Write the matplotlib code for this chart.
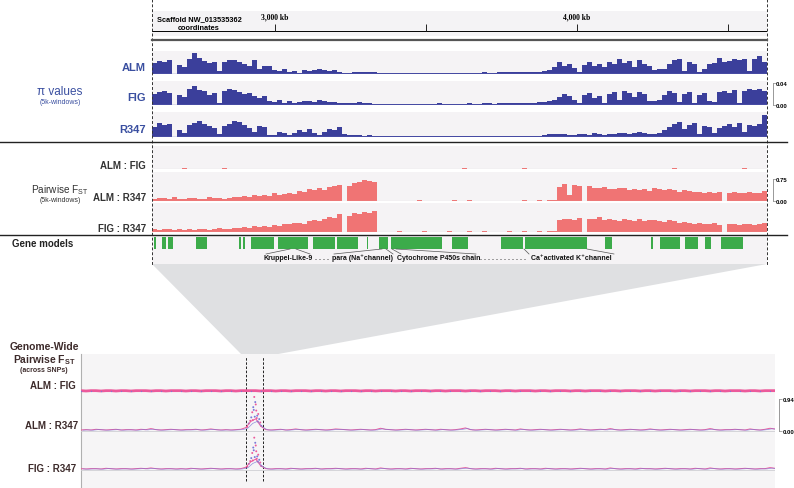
import numpy as np
import matplotlib
matplotlib.use('Agg')
import matplotlib.pyplot as plt
from matplotlib.patches import Polygon

plt.rcParams['font.family'] = ['Liberation Sans', 'DejaVu Sans']
plt.rcParams['mathtext.default'] = 'regular'

W, H = 794, 489

# %% data
# region of scaffold NW_013535362 shown in the upper panel (kb)
region_kb = (2593, 4629)
ruler_ticks_kb = [3000, 3500, 4000, 4500]
ruler_labels = {3000: '3,000 kb', 4000: '4,000 kb'}

# nucleotide diversity per window, units of 1e-3 (123 bins over the region)
pi_alm = [20, 24, 22, 26, 0, 17, 12, 28, 38, 30, 24, 20, 22, 5,
          22, 26, 25, 22, 18, 14, 26, 10, 15, 14, 8, 6, 9, 4, 6, 2,
          7, 6, 8, 9, 7, 5, 7, 3, 2, 2, 3, 3, 3, 4, 3,
          2, 2, 1, 2, 2, 1, 2, 1, 2, 2, 2, 1, 2, 2, 2, 1, 2, 2, 2, 1, 2, 3, 2, 2, 3, 3, 3, 4, 3, 4, 4, 4,
          4, 5, 7, 12, 22, 15, 18, 11,
          4, 16, 22, 14, 18, 12, 22, 18, 27, 20, 24, 12, 26, 18, 14,
          8, 9, 10, 18, 26, 27, 6, 22, 18, 3, 10, 19, 20, 30, 22, 24, 28, 26, 28, 6, 28, 32, 22]
pi_fig = [20, 24, 26, 22, 0, 18, 14, 30, 34, 28, 26, 18, 22, 4,
          26, 30, 28, 24, 20, 22, 16, 12, 16, 8, 6, 9, 4, 7, 3, 6,
          7, 8, 6, 9, 7, 6, 5, 3, 3, 4, 3, 5, 3, 3, 2,
          2, 1, 2, 2, 1, 2, 2, 1, 2, 1, 2, 2, 3, 2, 1, 2, 2, 2, 3, 2, 2, 3, 3, 2, 3, 3, 4, 3, 4, 4, 3, 4,
          6, 5, 8, 10, 14, 20, 16, 10,
          4, 18, 22, 12, 16, 4, 20, 24, 10, 26, 22, 14, 24, 20, 8,
          8, 10, 18, 26, 22, 6, 20, 24, 4, 18, 22, 8, 6, 24, 26, 22, 28, 4, 26, 30, 28, 30, 26]
pi_r347 = [18, 26, 22, 24, 0, 12, 8, 22, 26, 30, 24, 20, 16, 6,
           20, 24, 30, 28, 22, 16, 10, 20, 18, 4, 4, 10, 8, 4, 8, 12,
           10, 14, 8, 4, 10, 14, 12, 18, 6, 4, 3, 4, 2, 3, 2,
           1, 1, 2, 1, 1, 2, 1, 1, 1, 1, 1, 1, 1, 1, 1, 1, 1, 1, 1, 1, 1, 1, 1, 1, 1, 1, 1, 1, 1, 1, 1, 1,
           2, 4, 5, 6, 6, 5, 4, 3,
           6, 5, 4, 8, 6, 3, 5, 6, 7, 8, 6, 7, 9, 8, 6,
           6, 8, 12, 18, 24, 28, 14, 22, 26, 6, 20, 18, 8, 16, 20, 24, 18, 26, 10, 22, 20, 24, 40]

# pairwise Fst per window, units of 0.01
fst_alm_r347 = [8, 10, 9, 7, 12, 6, 8, 9, 10, 7, 8, 12, 9, 10, 8, 11, 13,
                14, 18, 12, 20, 16, 22, 18, 26, 20, 24,
                28, 24, 34, 30, 40, 36, 44, 38, 48, 52,
                56, 0, 50, 60, 66, 70, 68, 64,
                1, 0, 1, 0, 1, 1, 0, 1, 3, 1, 1, 1, 1, 1, 0, 4, 1, 1, 5, 1,
                1, 1, 1, 0, 1, 1, 1, 1, 1, 2, 1, 1, 2, 1, 2, 2,
                48, 58, 20, 56, 52, 0, 50, 46, 44, 48, 42, 40, 46, 44, 38, 42, 36, 40, 34, 44,
                40, 38, 42, 36, 32, 38, 34, 30, 32, 28, 30, 26, 30, 0, 28, 30, 26, 28, 30, 26, 28, 34]
fst_fig_r347 = [10, 8, 11, 9, 7, 10, 6, 9, 8, 11, 9, 7, 10, 12, 9, 10, 14,
                12, 16, 14, 22, 18, 20, 16, 24, 22, 28,
                26, 30, 32, 28, 38, 42, 36, 46, 50, 48,
                60, 0, 56, 64, 62, 68, 66, 70,
                1, 1, 1, 1, 2, 1, 1, 1, 1, 2, 1, 1, 1, 1, 2, 1, 1, 1, 2, 1,
                1, 2, 1, 1, 1, 1, 2, 1, 1, 2, 1, 1, 2, 1, 2, 2,
                40, 44, 46, 42, 48, 0, 46, 44, 50, 40, 44, 42, 38, 46, 40, 36, 44, 38, 40, 42,
                38, 34, 40, 36, 30, 34, 32, 28, 30, 26, 28, 30, 24, 0, 26, 28, 24, 26, 28, 24, 26, 32]
fst_alm_fig_bins = [6, 14, 62, 74, 104, 118]
fst_alm_fig_vals = [3, 3, 2, 2, 2, 2]

# gene models (start kb, end kb)
genes_kb = [(2600, 2605), (2626, 2639), (2646, 2663), (2739, 2775), (2881, 2888),
            (2894, 2901), (2921, 2997), (3010, 3110), (3126, 3199), (3206, 3275),
            (3305, 3308), (3345, 3374), (3384, 3553), (3586, 3639), (3749, 3821),
            (3828, 4033), (4093, 4116), (4245, 4252), (4275, 4341), (4358, 4401),
            (4424, 4444), (4477, 4550)]

# genome-wide Fst across SNPs, units of 0.01 (140 positions)
gw_alm_fig = [1, 0, 1, 1, 0, 1, 1, 0, 1, 1, 0, 1, 1, 1, 0, 1, 1, 0, 1, 1,
              1, 0, 1, 1, 0, 1, 1, 1, 0, 1, 1, 0, 1, 1, 1, 1, 0, 1, 1, 0,
              1, 1, 0, 1, 1, 1, 0, 1, 1, 0, 1, 1, 0, 1, 1, 1, 0, 1, 1, 0,
              1, 1, 1, 0, 1, 1, 0, 1, 1, 1, 0, 1, 1, 0, 1, 1, 1, 0, 1, 1,
              0, 1, 1, 1, 0, 1, 1, 0, 1, 1, 1, 0, 1, 1, 0, 1, 1, 1, 0, 1,
              1, 0, 1, 1, 1, 0, 1, 1, 0, 1, 1, 1, 0, 1, 1, 0, 1, 1, 1, 0,
              1, 1, 0, 1, 1, 1, 0, 1, 1, 0, 1, 1, 1, 0, 1, 1, 0, 1, 1, 1]
gw_alm_r347 = [3, 4, 3, 5, 4, 3, 4, 5, 3, 4, 4, 3, 5, 4, 7, 4, 3, 4, 5, 4,
               3, 4, 4, 5, 3, 4, 6, 4, 3, 4, 3, 4, 5, 10, 28, 36, 14, 4, 3, 4,
               5, 3, 4, 6, 4, 3, 4, 5, 4, 3, 4, 6, 5, 4, 3, 4, 5, 4, 3, 4,
               8, 5, 4, 3, 4, 5, 4, 3, 4, 5, 4, 3, 5, 4, 3, 4, 6, 9, 4, 3,
               4, 5, 4, 3, 4, 5, 4, 3, 6, 4, 3, 4, 5, 4, 3, 4, 5, 4, 3, 4,
               6, 4, 3, 4, 5, 4, 7, 4, 3, 4, 5, 4, 3, 4, 6, 4, 3, 4, 5, 4,
               3, 4, 5, 4, 3, 4, 7, 4, 3, 4, 4, 5, 4, 3, 6, 4, 3, 5, 8, 6]
gw_fig_r347 = [4, 3, 4, 4, 3, 5, 4, 3, 4, 4, 3, 4, 5, 4, 6, 4, 3, 4, 4, 3,
               4, 3, 5, 4, 3, 4, 5, 4, 3, 4, 4, 3, 4, 8, 24, 32, 12, 4, 3, 4,
               4, 3, 5, 4, 3, 4, 4, 5, 3, 4, 4, 5, 4, 3, 4, 4, 3, 5, 4, 3,
               6, 4, 3, 4, 4, 3, 5, 4, 3, 4, 4, 5, 3, 4, 4, 3, 5, 7, 4, 3,
               4, 4, 3, 5, 4, 3, 4, 4, 5, 3, 4, 4, 3, 5, 4, 3, 4, 4, 3, 4,
               5, 4, 3, 4, 4, 3, 6, 4, 3, 4, 4, 3, 5, 4, 4, 3, 4, 5, 4, 3,
               4, 4, 3, 5, 4, 3, 6, 4, 3, 4, 4, 3, 4, 5, 4, 3, 4, 4, 7, 5]
peak_pos = [33.3, 33.6, 33.9, 34.1, 34.3, 34.5, 34.7, 34.9, 35.1, 35.3,
            35.5, 35.7, 35.9, 36.1, 34.4, 34.8, 35.2, 34.6, 35.0, 35.4]
peak_alm_r347 = [0.12, 0.22, 0.30, 0.40, 0.55, 0.70, 1.00, 0.85, 0.60, 0.45,
                 0.50, 0.35, 0.25, 0.15, 0.32, 0.42, 0.38, 0.62, 0.78, 0.28]
peak_fig_r347 = [0.10, 0.18, 0.26, 0.35, 0.50, 0.66, 0.95, 0.80, 0.55, 0.40,
                 0.45, 0.30, 0.22, 0.12, 0.28, 0.38, 0.33, 0.58, 0.72, 0.25]
zoom_window = (33.1, 36.5)

# %% colours
PI_BLUE = '#3b3f9b'
PI_TXT = '#3a4fa0'
FST_RED = '#f07474'
GENE_GREEN = '#3cab4a'
TRACK_BG = '#f5f3f5'
PINK = '#ec5a9b'
LILAC = '#7a78d8'
DARK = '#333333'
BROWN = '#3d2b2b'

fig = plt.figure(figsize=(W / 100, H / 100), dpi=100)


def px_axes(x0, y0, x1, y1, z=1):
    return fig.add_axes([x0 / W, 1 - y1 / H, (x1 - x0) / W, (y1 - y0) / H], zorder=z)


def clean(ax, bg=TRACK_BG):
    ax.set_facecolor(bg)
    for s in ax.spines.values():
        s.set_visible(False)
    ax.set_xticks([])
    ax.set_yticks([])


def right_scale(ax, top, labels, out=4):
    ax.spines['right'].set_visible(True)
    ax.spines['right'].set_position(('outward', out))
    ax.spines['right'].set_bounds(0, top)
    ax.spines['right'].set_color('#888888')
    ax.spines['right'].set_linewidth(0.6)
    ax.yaxis.tick_right()
    ax.set_yticks([0, top])
    ax.set_yticklabels(labels, fontsize=4.3, fontweight='bold')
    ax.tick_params(axis='y', length=2, width=0.5, color='#888888', pad=0.5)


# background layer: funnel
bg = fig.add_axes([0, 0, 1, 1], zorder=0)
bg.set_xlim(0, W)
bg.set_ylim(H, 0)
bg.axis('off')
bg.add_patch(Polygon([(152, 265), (767, 265), (262, 358), (244, 358)],
                     closed=True, facecolor='#dfe0e2', edgecolor='none'))

nbins = len(pi_alm)
edges = np.linspace(region_kb[0], region_kb[1], nbins + 1)
step = edges[1] - edges[0]

# ruler
ax = px_axes(152, 12, 767, 37)
clean(ax, '#f4f3f5')
ax.set_xlim(*region_kb)
ax.set_ylim(0, 1)
ax.axhline(0.2, color='black', lw=0.7)
ax.vlines(ruler_ticks_kb, 0.2, 0.5, color='#222222', lw=0.7)
for k, lab in ruler_labels.items():
    ax.text(k, 0.8, lab, ha='center', va='center', fontsize=5.5, fontweight='bold',
            family='Liberation Serif')
ax.text(region_kb[0] + 18, 0.7, 'Scaffold NW_013535362', fontsize=5.3,
        fontweight='bold', va='center')
ax.text(region_kb[0] + 155, 0.36, 'coordinates', fontsize=5.3, fontweight='bold',
        va='center', ha='center')

# pi tracks
pi_tracks = [(pi_alm, 52, 75), (pi_fig, 82, 106), (pi_r347, 113, 138)]
for i, (vals, y0, y1) in enumerate(pi_tracks):
    ax = px_axes(152, y0, 767, y1)
    clean(ax)
    ax.bar(edges[:-1], np.array(vals) / 1000, width=step, align='edge',
           color=PI_BLUE, linewidth=0)
    ax.axhline(0, color='#7a80c4', lw=1)
    ax.set_xlim(*region_kb)
    ax.set_ylim(0, 0.042 * (y1 - y0) / 23)
    if i == 1:
        right_scale(ax, 0.04, ['0.00', '0.04'])

# Fst tracks
alm_fig = np.zeros(nbins)
alm_fig[fst_alm_fig_bins] = fst_alm_fig_vals
fst_tracks = [(alm_fig, 147, 170), (fst_alm_r347, 173, 202), (fst_fig_r347, 204, 233)]
for i, (vals, y0, y1) in enumerate(fst_tracks):
    ax = px_axes(152, y0, 767, y1)
    clean(ax)
    ax.bar(edges[:-1], np.array(vals) / 100, width=step, align='edge',
           color=FST_RED, linewidth=0)
    ax.axhline(0, color='#c4c4c8', lw=0.8)
    ax.set_xlim(*region_kb)
    ax.set_ylim(0, 0.75 * (y1 - y0) / 22)
    if i == 1:
        right_scale(ax, 0.75, ['0.00', '0.75'])

# gene models
ax = px_axes(152, 237, 767, 265)
clean(ax)
ax.set_xlim(*region_kb)
ax.set_ylim(1, 0)
ax.broken_barh([(s, e - s) for s, e in genes_kb], (0.04, 0.42),
               facecolor=GENE_GREEN, edgecolor='none')

# genome-wide panel
ax = px_axes(81, 355, 775, 489)
clean(ax, '#f6f5f6')
ax.spines['left'].set_visible(True)
ax.spines['left'].set_color('#b0b0b0')
ax.set_xlim(0, len(gw_alm_r347) - 1)
ax.set_ylim(0, 1)
for xv in zoom_window:
    ax.axvline(xv, ymin=0.05, ymax=0.98, color='black', lw=0.6, ls=(0, (3, 2)))

gw_tracks = [(gw_alm_fig, None, 392), (gw_alm_r347, peak_alm_r347, 432),
             (gw_fig_r347, peak_fig_r347, 471)]
xs = np.arange(len(gw_alm_r347))
for i, (vals, peak, base) in enumerate(gw_tracks):
    ax = px_axes(81, base - 38, 775, base + 2, z=2)
    ax.patch.set_alpha(0)
    for s in ax.spines.values():
        s.set_visible(False)
    ax.set_xticks([])
    ax.set_yticks([])
    ax.set_xlim(0, len(vals) - 1)
    ax.set_ylim(-0.94 * 2 / 32, 0.94 * 38 / 32)
    v = np.array(vals) / 100
    if i == 0:
        ax.plot(xs, v, color=PINK, lw=2.0, solid_capstyle='butt')
        ax.plot(xs[::2], v[::2], 's', color=LILAC, ms=0.8, mew=0)
    else:
        ax.axhline(0, color='#cfcfd4', lw=0.6)
        ax.plot(xs, v, color=PINK, lw=0.7)
        ax.plot(xs + 0.4, v * 0.8, color=LILAC, lw=0.5, alpha=0.8)
        ax.scatter(peak_pos, peak, s=2.0, c=[PINK, LILAC] * (len(peak) // 2),
                   linewidths=0, clip_on=False)
    if i == 1:
        right_scale(ax, 0.94, ['0.00', '0.94'], out=3)

# overlay: guides and labels
ov = fig.add_axes([0, 0, 1, 1], zorder=10)
ov.set_xlim(0, W)
ov.set_ylim(H, 0)
ov.axis('off')
ov.patch.set_alpha(0)
ov.plot([152, 152], [0, 266], color='#333333', lw=0.7, ls=(0, (3, 2)))
ov.plot([767, 767], [0, 266], color='#333333', lw=0.7, ls=(0, (3, 2)))
ov.plot([152, 767], [41, 41], color='#555555', lw=1.6)
ov.plot([0, 787], [143, 143], color='#222222', lw=1.0)
ov.plot([0, 787], [236, 236], color='#222222', lw=1.0)

for lab, y in [('ALM', 68), ('FIG', 98), ('R347', 130)]:
    ov.text(146, y, lab, ha='right', va='center', fontsize=8, fontweight='bold', color=PI_TXT)
ov.text(60, 92, 'π values', ha='center', va='center', fontsize=8.5, color=PI_TXT)
ov.text(60, 103, '(5k-windows)', ha='center', va='center', fontsize=5, color=PI_TXT)

for lab, y in [('ALM : FIG', 166), ('ALM : R347', 198), ('FIG : R347', 229)]:
    ov.text(146, y, lab, ha='right', va='center', fontsize=7, fontweight='bold', color=DARK)
ov.text(60, 190, r'Pairwise F$_{ST}$', ha='center', va='center', fontsize=7.2, color=DARK)
ov.text(60, 201, '(5k-windows)', ha='center', va='center', fontsize=5, color=DARK)
ov.text(12, 244, 'Gene models', ha='left', va='center', fontsize=7, fontweight='bold', color='#222222')

ov.text(44, 347, 'Genome-Wide', ha='center', va='center', fontsize=7.5, fontweight='bold', color=BROWN)
ov.text(44, 360, r'Pairwise F$_{ST}$', ha='center', va='center', fontsize=7.5, fontweight='bold', color=BROWN)
ov.text(44, 371, '(across SNPs)', ha='center', va='center', fontsize=5, fontweight='bold', color=BROWN)
for lab, x, y in [('ALM : FIG', 76, 386), ('ALM : R347', 78, 426), ('FIG : R347', 76, 469)]:
    ov.text(x, y, lab, ha='right', va='center', fontsize=7, fontweight='bold', color=BROWN)

# gene labels and connectors
gene_labels = [('Kruppel-Like-9', 288), ('. . . .', 322), ('para (Na⁺channel)', 362),
               ('Cytochrome P450s chain', 439), ('. . . . . . . . . . . .', 503),
               ('Ca⁺activated K⁺channel', 571)]
for lab, x in gene_labels:
    ov.text(x, 258, lab, ha='center', va='center', fontsize=5, fontweight='bold', color='#111111')
connectors = [((266, 255), (290, 250)), ((310, 255), (296, 250)),
              ((334, 255), (382, 250)), ((393, 255), (386, 250)),
              ((401, 255), (392, 250)), ((476, 255), (396, 250)),
              ((529, 255), (524, 250)), ((614, 255), (587, 250))]
for (xa, ya), (xb, yb) in connectors:
    ov.plot([xa, xb], [ya, yb], color='#555555', lw=0.5)

fig.savefig('out.png', dpi=100)
